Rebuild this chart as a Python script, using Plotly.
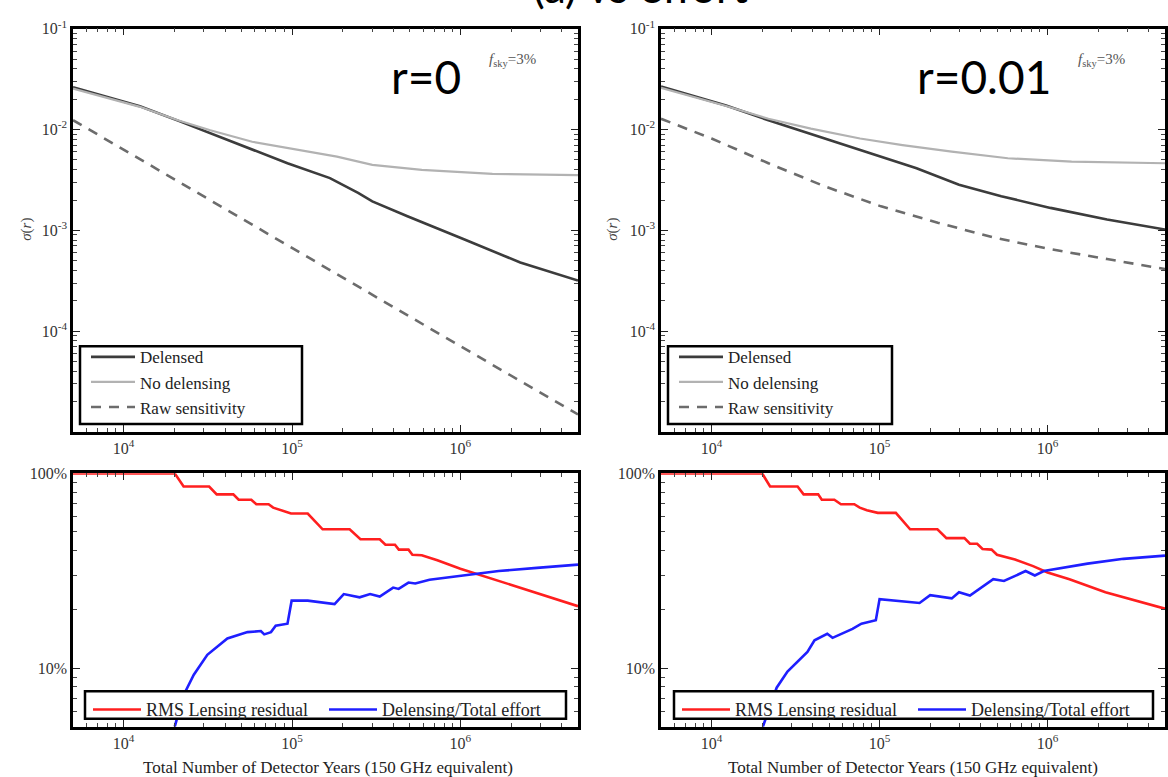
import math
import plotly.graph_objects as go

# ---------------- data ----------------
# Top-left: r = 0
N_DEL_R0 = [5000, 12500, 21200, 53000, 94000, 168000, 247000, 300000, 485000, 1050000, 2270000, 5000000]
DEL_R0 = [0.0263, 0.0170, 0.0122, 0.00676, 0.00463, 0.00330, 0.00235, 0.00194, 0.00138, 0.000815, 0.00048, 0.000318]
N_NODEL_R0 = [5000, 12500, 21200, 32700, 58000, 126000, 185000, 300000, 590000, 1550000, 5000000]
NODEL_R0 = [0.0255, 0.0168, 0.0123, 0.00984, 0.00756, 0.00603, 0.00538, 0.00446, 0.00398, 0.00364, 0.00353]
N_RAW_R0 = [5000, 10000, 100000, 1000000, 5000000]
RAW_R0 = [0.0124, 0.0063, 0.00067, 0.000071, 0.0000149]

# Top-right: r = 0.01
N_DEL_R01 = [5000, 12200, 21800, 47200, 93000, 166000, 297000, 530000, 1040000, 2260000, 5000000]
DEL_R01 = [0.0267, 0.0173, 0.01236, 0.00815, 0.00559, 0.00413, 0.00283, 0.00218, 0.00167, 0.00128, 0.00102]
N_NODEL_R01 = [5000, 12200, 21800, 39000, 76500, 137000, 269000, 580000, 1390000, 5000000]
NODEL_R01 = [0.0259, 0.0171, 0.0128, 0.01023, 0.00815, 0.00701, 0.00603, 0.00519, 0.00481, 0.00463]
N_RAW_R01 = [5000, 10000, 21800, 47200, 102000, 222000, 480000, 1040000, 2260000, 5000000]
RAW_R01 = [0.0128, 0.00815, 0.00463, 0.00273, 0.00173, 0.00119, 0.000847, 0.00065, 0.000519, 0.000413]

# Bottom-left: r = 0 (percent)
N_RES_R0 = [5000, 20100, 22700, 32200, 35700, 44800, 48200, 57300, 61400, 72600, 77300, 85000, 98600,
            124000, 152000, 220000, 255000, 332000, 359000, 409000, 431000, 492000, 519000, 590000,
            730000, 1000000, 1230000, 1690000, 2850000, 5000000]
RES_R0 = [100, 100, 85.6, 85.6, 78.0, 78.0, 73.2, 73.2, 69.4, 69.4, 66.7, 64.7, 62.2,
          62.2, 51.6, 51.6, 45.9, 45.9, 43.0, 43.0, 40.6, 40.6, 38.2, 38.0,
          35.8, 32.4, 30.6, 28.1, 24.2, 20.8]
N_EFF_R0 = [20100, 22800, 26100, 31400, 41300, 54400, 65300, 68400, 75000, 80000, 94000, 99500,
            124000, 179000, 203000, 252000, 291000, 332000, 399000, 430000, 492000, 540000,
            656000, 810000, 1000000, 1690000, 2850000, 5000000]
EFF_R0 = [5.0, 7.33, 9.25, 11.7, 14.2, 15.3, 15.5, 14.9, 15.3, 16.5, 16.9, 22.2,
          22.2, 21.3, 24.0, 23.1, 24.0, 23.3, 25.9, 25.5, 27.5, 27.2,
          28.4, 29.1, 29.7, 31.5, 32.7, 34.0]

# Bottom-right: r = 0.01 (percent)
N_RES_R01 = [5000, 20000, 22300, 32500, 35300, 43100, 45300, 53800, 58900, 70700, 76200, 84000, 97600,
             125000, 152000, 221000, 250000, 320000, 345000, 381000, 410000, 464000, 500000, 640000,
             820000, 1000000, 1350000, 2210000, 5000000]
RES_R01 = [100, 100, 85.6, 85.6, 78.0, 78.0, 73.2, 73.2, 69.4, 69.4, 66.7, 64.7, 62.7,
           62.7, 51.6, 51.6, 46.5, 46.5, 43.5, 43.5, 40.9, 40.6, 38.2, 36.1,
           33.4, 31.0, 28.6, 24.5, 20.2]
N_EFF_R01 = [20200, 22100, 24400, 28300, 33700, 37200, 41000, 48800, 52500, 69000, 78000, 95000,
             100000, 173000, 200000, 269000, 297000, 345000, 475000, 550000, 740000, 840000,
             950000, 1160000, 1730000, 2830000, 5000000]
EFF_R01 = [5.0, 6.26, 7.93, 9.6, 11.2, 12.1, 13.9, 15.0, 14.3, 15.9, 16.9, 17.6,
           22.6, 21.6, 23.7, 22.8, 24.5, 23.6, 28.6, 28.0, 31.5, 29.9,
           31.5, 32.5, 34.4, 36.4, 37.8]

X_TICKS = [1e4, 1e5, 1e6]
X_TICKTEXT = ["10<sup>4</sup>", "10<sup>5</sup>", "10<sup>6</sup>"]
Y_TOP_TICKS = [1e-4, 1e-3, 1e-2, 1e-1]
Y_TOP_TICKTEXT = ["10<sup>-4</sup>", "10<sup>-3</sup>", "10<sup>-2</sup>", "10<sup>-1</sup>"]
Y_BOT_TICKS = [10, 100]
Y_BOT_TICKTEXT = ["10%", "100%"]

# ---------------- layout helpers ----------------
W, H = 1168, 777
SERIF = "Liberation Serif"


def px_x(x):
    return x / W


def px_y(y):
    return 1 - y / H


def minor_vals(lo_exp, hi_exp):
    return [m * 10 ** e for e in range(lo_exp, hi_exp + 1) for m in range(2, 10)]


C_DEL = "#3c3c3c"
C_NODEL = "#b2b2b2"
C_RAW = "#6c6c6c"
C_RED = "#ff1f1f"
C_BLUE = "#1f1fff"

fig = go.Figure()

panels_top = [
    ("x", "y", "legend", N_DEL_R0, DEL_R0, N_NODEL_R0, NODEL_R0, N_RAW_R0, RAW_R0),
    ("x2", "y2", "legend2", N_DEL_R01, DEL_R01, N_NODEL_R01, NODEL_R01, N_RAW_R01, RAW_R01),
]
for xa, ya, lg, nd, d, nn, n, nr, r in panels_top:
    fig.add_trace(go.Scatter(x=nd, y=d, mode="lines", name="Delensed", xaxis=xa, yaxis=ya,
                             legend=lg, line=dict(color=C_DEL, width=2.6)))
    fig.add_trace(go.Scatter(x=nn, y=n, mode="lines", name="No delensing", xaxis=xa, yaxis=ya,
                             legend=lg, line=dict(color=C_NODEL, width=2.2)))
    fig.add_trace(go.Scatter(x=nr, y=r, mode="lines", name="Raw sensitivity", xaxis=xa, yaxis=ya,
                             legend=lg, line=dict(color=C_RAW, width=2.6, dash="10px,8px")))

panels_bot = [
    ("x3", "y3", "legend3", N_RES_R0, RES_R0, N_EFF_R0, EFF_R0),
    ("x4", "y4", "legend4", N_RES_R01, RES_R01, N_EFF_R01, EFF_R01),
]
for xa, ya, lg, nr, r, ne, e in panels_bot:
    fig.add_trace(go.Scatter(x=nr, y=r, mode="lines", name="RMS Lensing residual", xaxis=xa, yaxis=ya,
                             legend=lg, line=dict(color=C_RED, width=2.6)))
    fig.add_trace(go.Scatter(x=ne, y=e, mode="lines", name="Delensing/Total effort", xaxis=xa, yaxis=ya,
                             legend=lg, line=dict(color=C_BLUE, width=2.6)))

common = dict(type="log", showline=True, linecolor="black", linewidth=2.5, mirror="allticks",
              ticks="inside", ticklen=7, tickwidth=1.2, tickcolor="#222", showgrid=False,
              zeroline=False, tickfont=dict(family=SERIF, size=16, color="#333"))

xdom_l = [px_x(73), px_x(578)]
xdom_r = [px_x(661), px_x(1165)]
ydom_t = [px_y(427), px_y(18)]
ydom_b = [px_y(726), px_y(469)]
xrange_ = [math.log10(5000), math.log10(5e6)]


def xaxis(dom, anchor):
    return dict(common, domain=dom, anchor=anchor, range=xrange_, tickmode="array",
                tickvals=X_TICKS, ticktext=X_TICKTEXT,
                minor=dict(ticks="inside", ticklen=4, tickwidth=1, tickcolor="#444",
                           tickvals=minor_vals(3, 6)))


def ytop(dom, anchor):
    return dict(common, domain=dom, anchor=anchor, range=[-5, -1], tickmode="array",
                tickvals=Y_TOP_TICKS, ticktext=Y_TOP_TICKTEXT,
                minor=dict(ticks="inside", ticklen=4, tickwidth=1, tickcolor="#444",
                           tickvals=minor_vals(-5, -2)))


def ybot(dom, anchor):
    return dict(common, domain=dom, anchor=anchor, range=[math.log10(5), 2], tickmode="array",
                tickvals=Y_BOT_TICKS, ticktext=Y_BOT_TICKTEXT,
                minor=dict(ticks="inside", ticklen=4, tickwidth=1, tickcolor="#444",
                           tickvals=minor_vals(0, 1)))


def legend_v(x, y):
    return dict(x=px_x(x), y=px_y(y), xanchor="left", yanchor="top", orientation="v",
                bgcolor="rgba(0,0,0,0)", borderwidth=0, tracegroupgap=0, itemwidth=44,
                font=dict(family=SERIF, size=17, color="#222"))


def legend_h(x, y):
    return dict(x=px_x(x), y=px_y(y), xanchor="left", yanchor="top", orientation="h",
                bgcolor="rgba(0,0,0,0)", borderwidth=0, entrywidth=173, entrywidthmode="pixels",
                itemwidth=48, font=dict(family=SERIF, size=18, color="#222"))


shapes = []
for (x0, y0, x1, y1) in [(80, 340, 302, 419), (668, 340, 892, 419), (85, 690, 566, 718), (674, 690, 1153, 718)]:
    shapes.append(dict(type="rect", xref="paper", yref="paper", x0=px_x(x0), x1=px_x(x1),
                       y0=px_y(y1), y1=px_y(y0), line=dict(color="black", width=2.5),
                       fillcolor="white", layer="above"))

annotations = []
for cx, txt in [(426, "r=0"), (984, "r=0.01")]:
    annotations.append(dict(xref="paper", yref="paper", x=px_x(cx), y=px_y(66), text=txt,
                            showarrow=False, xanchor="center", yanchor="middle",
                            font=dict(family="Lato", size=46, color="black")))
for cx in [512, 1101]:
    annotations.append(dict(xref="paper", yref="paper", x=px_x(cx), y=px_y(50),
                            text="<i>f</i><sub>sky</sub>=3%", showarrow=False,
                            xanchor="center", yanchor="middle",
                            font=dict(family=SERIF, size=15, color="#555")))
for cx in [27, 613]:
    annotations.append(dict(xref="paper", yref="paper", x=px_x(cx), y=px_y(222),
                            text="<i>σ</i>(<i>r</i>)", showarrow=False, textangle=-90,
                            xanchor="center", yanchor="middle",
                            font=dict(family=SERIF, size=15, color="#444")))
for cx in [328, 913]:
    annotations.append(dict(xref="paper", yref="paper", x=px_x(cx), y=px_y(767),
                            text="Total Number of Detector Years (150 GHz equivalent)",
                            showarrow=False, xanchor="center", yanchor="middle",
                            font=dict(family=SERIF, size=17, color="#222")))
annotations.append(dict(xref="paper", yref="paper", x=px_x(641), y=px_y(3),
                        text="(a) vs effort", showarrow=False, xanchor="center", yanchor="bottom",
                        font=dict(family="Lato", size=44, color="black")))

fig.update_layout(
    width=W, height=H, margin=dict(l=0, r=0, t=0, b=0),
    paper_bgcolor="white", plot_bgcolor="white",
    xaxis=xaxis(xdom_l, "y"), yaxis=ytop(ydom_t, "x"),
    xaxis2=xaxis(xdom_r, "y2"), yaxis2=ytop(ydom_t, "x2"),
    xaxis3=xaxis(xdom_l, "y3"), yaxis3=ybot(ydom_b, "x3"),
    xaxis4=xaxis(xdom_r, "y4"), yaxis4=ybot(ydom_b, "x4"),
    legend=legend_v(86, 333), legend2=legend_v(674, 333),
    legend3=legend_h(88, 690), legend4=legend_h(677, 690),
    shapes=shapes, annotations=annotations, showlegend=True,
)

fig.write_html("out.html")
